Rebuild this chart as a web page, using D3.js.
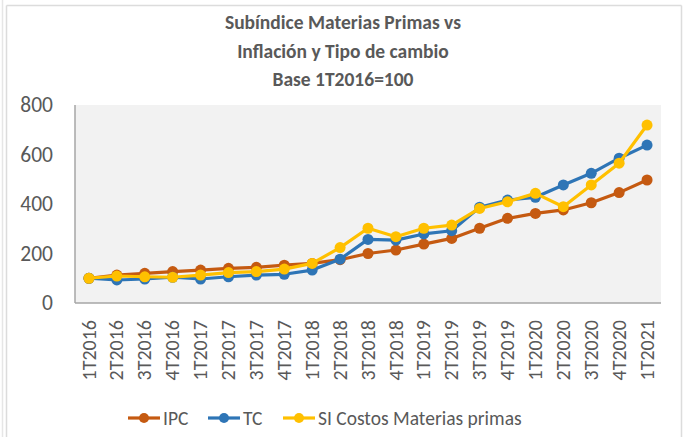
<!DOCTYPE html>
<html>
<head>
<meta charset="utf-8">
<script src="https://cdn.jsdelivr.net/npm/d3@7"></script>
<style>
  body { margin: 0; background: #fff; }
  svg { display: block; }
</style>
</head>
<body>
<svg id="chart" width="685" height="437"></svg>
<script>
const quarters = ['1T2016', '2T2016', '3T2016', '4T2016', '1T2017', '2T2017', '3T2017', '4T2017',
  '1T2018', '2T2018', '3T2018', '4T2018', '1T2019', '2T2019', '3T2019', '4T2019',
  '1T2020', '2T2020', '3T2020', '4T2020', '1T2021'];
const ipc = [100, 113, 120, 127, 133, 140, 144, 153, 160, 175, 200, 214, 238, 261, 302, 342, 362, 376, 405, 446, 497];
const tc = [100, 93, 97, 104, 97, 106, 113, 116, 133, 177, 257, 254, 279, 292, 387, 416, 427, 477, 524, 585, 638];
const si = [100, 109, 106, 104, 113, 123, 127, 137, 160, 224, 302, 268, 302, 315, 382, 409, 443, 389, 477, 565, 719];
const seriesNames = ['IPC', 'TC', 'SI Costos Materias primas'];
const yTicks = [0, 200, 400, 600, 800];
const titleLines = ['Subíndice Materias Primas vs', 'Inflación y Tipo de cambio', 'Base 1T2016=100'];

const colors = ['#C55A11', '#2E75B6', '#FFC000'];
const series = [ipc, tc, si].map((vals, i) => ({name: seriesNames[i], values: vals, color: colors[i]}));
const font = 'Carlito, Lato, sans-serif';
const textColor = '#595959';

const svg = d3.select('#chart');
const margin = {top: 105, right: 24, bottom: 134, left: 75};
const width = +svg.attr('width');
const height = +svg.attr('height');
const innerWidth = width - margin.left - margin.right;
const innerHeight = height - margin.top - margin.bottom;

// chart frame (top, left, right edges; bottom is off-picture)
const frame = svg.append('g').attr('stroke', '#dcdcdc').attr('stroke-width', 1.5);
frame.append('line').attr('x1', 2.5).attr('x2', 2.5).attr('y1', 0).attr('y2', height).attr('stroke', '#e6e6e6');
frame.append('line').attr('x1', 6.5).attr('x2', 6.5).attr('y1', 5.5).attr('y2', height);
frame.append('line').attr('x1', 681.5).attr('x2', 681.5).attr('y1', 5.5).attr('y2', height);
frame.append('line').attr('x1', 6.5).attr('x2', 681.5).attr('y1', 5.5).attr('y2', 5.5);

// title
svg.append('g').selectAll('text').data(titleLines).enter().append('text')
  .attr('x', 343)
  .attr('y', (d, i) => 29 + i * 28.5)
  .attr('text-anchor', 'middle')
  .attr('font-family', font)
  .attr('font-size', 19.5)
  .attr('font-weight', 'bold')
  .attr('fill', textColor)
  .text(d => d);

const g = svg.append('g').attr('transform', `translate(${margin.left}, ${margin.top})`);

const xScale = d3.scaleBand().domain(quarters).range([0, innerWidth]);
const yScale = d3.scaleLinear().domain([0, 800]).range([innerHeight, 0]);
const xPos = d => xScale(d) + xScale.bandwidth() / 2;

g.append('rect').attr('width', innerWidth).attr('height', innerHeight).attr('fill', '#f2f2f2');

// axes
const yAxis = d3.axisLeft(yScale).tickValues(yTicks).tickSize(0).tickPadding(22);
const yAxisGroup = g.append('g').call(yAxis)
  .attr('font-family', font).attr('font-size', 21.5);
yAxisGroup.select('.domain').remove();
yAxisGroup.selectAll('.tick text').attr('fill', textColor);

const xAxis = d3.axisBottom(xScale).tickSize(0).tickPadding(0);
const xAxisGroup = g.append('g').attr('transform', `translate(0, ${innerHeight})`).call(xAxis)
  .attr('font-family', font).attr('font-size', 20);
xAxisGroup.select('.domain').remove();
xAxisGroup.selectAll('.tick text')
  .attr('transform', 'rotate(-90)')
  .attr('x', -17).attr('y', 0).attr('dy', '0.33em')
  .attr('text-anchor', 'end')
  .attr('fill', textColor);

g.append('line').attr('x1', 0).attr('x2', 0).attr('y1', 0).attr('y2', innerHeight)
  .attr('stroke', '#a6a6a6').attr('stroke-width', 1.5);
g.append('line').attr('x1', 0).attr('x2', innerWidth).attr('y1', innerHeight).attr('y2', innerHeight)
  .attr('stroke', '#a6a6a6').attr('stroke-width', 1.5);

// lines + markers
const line = d3.line().x((d, i) => xPos(quarters[i])).y(d => yScale(d));
const sg = g.selectAll('.series').data(series).enter().append('g').attr('class', 'series');
sg.append('path')
  .attr('d', d => line(d.values))
  .attr('fill', 'none')
  .attr('stroke', d => d.color)
  .attr('stroke-width', 3.2)
  .attr('stroke-linejoin', 'round');
sg.each(function(s) {
  d3.select(this).selectAll('circle').data(s.values).enter().append('circle')
    .attr('cx', (d, i) => xPos(quarters[i]))
    .attr('cy', d => yScale(d))
    .attr('r', 5.5)
    .attr('fill', s.color);
});

// legend
const legendX = [128, 208, 283];
const lg = svg.append('g').selectAll('g').data(series).enter().append('g')
  .attr('transform', (d, i) => `translate(${legendX[i]}, 418)`);
lg.append('line').attr('x1', 0).attr('x2', 32).attr('stroke', d => d.color).attr('stroke-width', 3.2);
lg.append('circle').attr('cx', 16).attr('r', 5).attr('fill', d => d.color);
lg.append('text').attr('x', 35).attr('dy', '0.35em')
  .attr('font-family', font).attr('font-size', 19.5).attr('fill', textColor)
  .text(d => d.name);
</script>
</body>
</html>
